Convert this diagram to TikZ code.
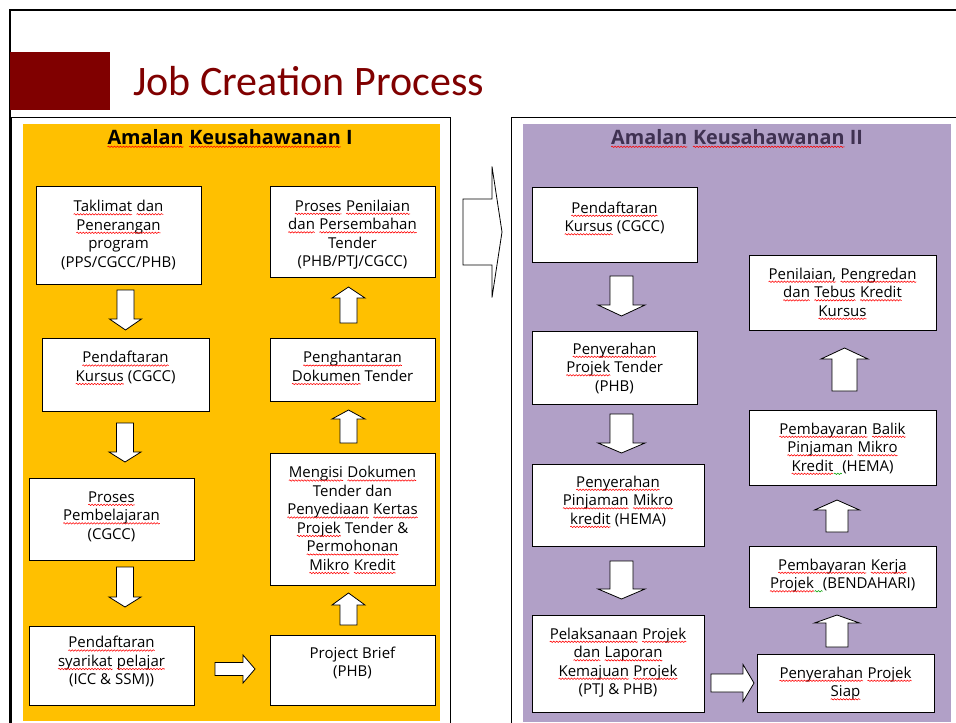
\documentclass[tikz,border=0pt]{standalone}
\usepackage{fontspec}
\setmainfont{Open Sans}
\newfontfamily\titlefont{Carlito}
\usetikzlibrary{calc,decorations.pathmorphing}
\definecolor{orangefill}{HTML}{FFC000}
\definecolor{purplefill}{HTML}{B1A0C7}
\definecolor{darkred}{HTML}{800000}
\definecolor{titlepurple}{HTML}{3F3151}
\definecolor{gramgreen}{HTML}{00A000}
\tikzset{
  box/.style={draw=black, line width=1pt, fill=white, inner sep=0pt, outer sep=0pt, anchor=north west,
    font=\fontsize{15}{18.5}\selectfont},
  blk/.style={draw=black, line width=0.8pt, fill=white, line join=miter},
  paneltitle/.style={anchor=base, inner sep=0pt, font=\bfseries\fontsize{19.8}{22}\selectfont},
  wave/.style={draw=red, line width=0.55pt, decorate, decoration={snake, amplitude=0.7pt, segment length=3pt}}
}
% word with red wavy (spell check) underline
\newcommand\w[1]{\tikz[baseline=(wd.base), x=1pt, y=1pt]{\node[inner sep=0pt, outer sep=0pt, anchor=base west, draw=none, fill=none] (wd) at (0,0) {#1};
  \path[wave] (0,-2.8) -- ($(wd.base east)+(0,-2.8)$);}}
% double space with green wavy (grammar check) underline
\newcommand\gw{\tikz[baseline=0pt, x=1pt, y=1pt]{\path[wave, draw=gramgreen] (0,-2.8) -- (8,-2.8);}}
% name, x1, y1, x2, y2, first baseline offset, text
\newcommand\bx[7]{\node[box] (#1) at (#2,#3)
  {\parbox[c][\dimexpr#5pt-#3pt\relax][t]{\dimexpr#4pt-#2pt\relax}{\centering\rule{0pt}{#6pt}#7\par}};}
\newcommand\arrdown[5]{\draw[blk] ($(#1)+(-#3,0)$) -- ($(#1)+(#3,0)$) -- ($(#2)+(#3,-#5)$) -- ($(#2)+(#4,-#5)$) -- (#2) -- ($(#2)+(-#4,-#5)$) -- ($(#2)+(-#3,-#5)$) -- cycle;}
\newcommand\arrup[5]{\draw[blk] ($(#1)+(-#3,0)$) -- ($(#1)+(#3,0)$) -- ($(#2)+(#3,#5)$) -- ($(#2)+(#4,#5)$) -- (#2) -- ($(#2)+(-#4,#5)$) -- ($(#2)+(-#3,#5)$) -- cycle;}
\newcommand\arrright[5]{\draw[blk] ($(#1)+(0,-#3)$) -- ($(#1)+(0,#3)$) -- ($(#2)+(-#5,#3)$) -- ($(#2)+(-#5,#4)$) -- (#2) -- ($(#2)+(-#5,-#4)$) -- ($(#2)+(-#5,-#3)$) -- cycle;}
\begin{document}
\begin{tikzpicture}[x=1pt,y=-1pt]
\useasboundingbox (0,0) rectangle (956,723);
\fill[white] (0,0) rectangle (956,723);
% slide frame and title
\draw[line width=2.2pt] (10,723) -- (10,10) -- (956,10);
\fill[darkred] (10,52) rectangle (110,110);
\node[anchor=base west, inner sep=0pt, text=darkred, font=\titlefont\fontsize{42}{50}\selectfont] (title) at (133,95) {Job Creation Process};
% panels
\draw[line width=0.8pt] (11,723) -- (11,117) -- (450,117) -- (450,723);
\fill[orangefill] (23,124) rectangle (440,721);
\draw[line width=0.8pt] (511,723) -- (511,117) -- (956,117);
\fill[purplefill] (523,124) rectangle (951,722);
\node[paneltitle] (t1) at (230,144) {\w{Amalan} \w{Keusahawanan} I};
\node[paneltitle, text=titlepurple] (t2) at (737,144) {\w{Amalan} \w{Keusahawanan} II};
% big arrow between panels
\coordinate (bs) at (463,232); \coordinate (bt) at (502,232);
\arrright{bs}{bt}{33}{65.5}{10}
% left boxes
\bx{L1}{36}{186}{201}{284}{25.5}{\w{Taklimat} \w{dan}\\ \w{Penerangan}\\ program\\ (PPS/CGCC/PHB)}
\bx{L2}{270}{186}{435}{277}{25}{\w{Proses} \w{Penilaian}\\ \w{dan} \w{Persembahan}\\ Tender\\ (PHB/PTJ/CGCC)}
\bx{L3}{42}{338}{209}{411}{24.7}{\w{Pendaftaran}\\ \w{Kursus} (CGCC)}
\bx{L4}{270}{338}{435}{401}{24.7}{\w{Penghantaran}\\ \w{Dokumen} Tender}
\bx{L5}{29}{478}{194}{560}{24}{\w{Proses}\\ \w{Pembelajaran}\\ (CGCC)}
\bx{L6}{270}{453}{435}{585}{24.7}{\w{Mengisi} \w{Dokumen}\\ Tender dan\\ \w{Penyediaan} \w{Kertas}\\ \w{Projek} Tender \&\\ \w{Permohonan}\\ \w{Mikro} \w{Kredit}}
\bx{L7}{29}{626}{194}{705}{21.7}{\w{Pendaftaran}\\ \w{syarikat} \w{pelajar}\\ (ICC \& SSM))}
\bx{L8}{270}{635}{435}{705}{23.3}{Project Brief\\ (PHB)}
% right boxes
\bx{R1}{532}{187}{697}{262}{26}{\w{Pendaftaran}\\ \w{Kursus} (CGCC)}
\bx{R2}{749}{255}{936}{330}{24}{\w{Penilaian,} \w{Pengredan}\\ \w{dan} \w{Tebus} \w{Kredit}\\ \w{Kursus}}
\bx{R3}{532}{331}{697}{404}{23}{\w{Penyerahan}\\ \w{Projek} Tender\\ (PHB)}
\bx{R4}{749}{410}{936}{485}{24}{\w{Pembayaran} \w{Balik}\\ \w{Pinjaman} \w{Mikro}\\ \w{Kredit}\gw{}(HEMA)}
\bx{R5}{532}{464}{704}{546}{23}{\w{Penyerahan}\\ \w{Pinjaman} \w{Mikro}\\ \w{kredit} (HEMA)}
\bx{R6}{749}{546}{936}{607}{24}{\w{Pembayaran} \w{Kerja}\\ \w{Projek}\gw{}(BENDAHARI)}
\bx{R7}{532}{615}{704}{712}{24}{\w{Pelaksanaan} \w{Projek}\\ \w{dan} \w{Laporan}\\ \w{Kemajuan} \w{Projek}\\ (PTJ \& PHB)}
\bx{R8}{757}{654}{934}{712}{24}{\w{Penyerahan} \w{Projek}\\ \w{Siap}}
% left arrows
\coordinate (d1s) at (125.5,290); \coordinate (d1t) at (125.5,330);
\coordinate (d2s) at (125,423);   \coordinate (d2t) at (125,462);
\coordinate (d3s) at (125,567);   \coordinate (d3t) at (125,607);
\coordinate (ras) at (215,669);   \coordinate (rat) at (255,669);
\coordinate (u1s) at (348.5,625); \coordinate (u1t) at (348.5,593);
\coordinate (u2s) at (348.5,443); \coordinate (u2t) at (348.5,410);
\coordinate (u3s) at (348.5,323); \coordinate (u3t) at (348.5,287);
\arrdown{d1s}{d1t}{8.5}{16}{11}
\arrdown{d2s}{d2t}{8.5}{16}{10}
\arrdown{d3s}{d3t}{8.5}{16}{10}
\arrright{ras}{rat}{6.5}{14}{12}
\arrup{u1s}{u1t}{8.5}{16.5}{12}
\arrup{u2s}{u2t}{8.5}{16.5}{9}
\arrup{u3s}{u3t}{8.5}{16.5}{11}
% right arrows
\coordinate (rd1s) at (621.5,276); \coordinate (rd1t) at (621.5,316);
\coordinate (rd2s) at (621.5,414); \coordinate (rd2t) at (621.5,453);
\coordinate (rd3s) at (621.5,561); \coordinate (rd3t) at (621.5,599);
\coordinate (rrs) at (711,683);    \coordinate (rrt) at (754,683);
\coordinate (ru1s) at (837,647);   \coordinate (ru1t) at (837,615);
\coordinate (ru2s) at (837,532);   \coordinate (ru2t) at (837,500);
\coordinate (ru3s) at (844.5,391); \coordinate (ru3t) at (844.5,348);
\arrdown{rd1s}{rd1t}{11.5}{23.5}{11}
\arrdown{rd2s}{rd2t}{11.5}{23.5}{10}
\arrdown{rd3s}{rd3t}{11.5}{23.5}{10}
\arrright{rrs}{rrt}{9}{18.5}{11}
\arrup{ru1s}{ru1t}{11}{22.5}{8}
\arrup{ru2s}{ru2t}{11}{22.5}{10}
\arrup{ru3s}{ru3t}{12.5}{23.5}{11}
\end{tikzpicture}
\end{document}
